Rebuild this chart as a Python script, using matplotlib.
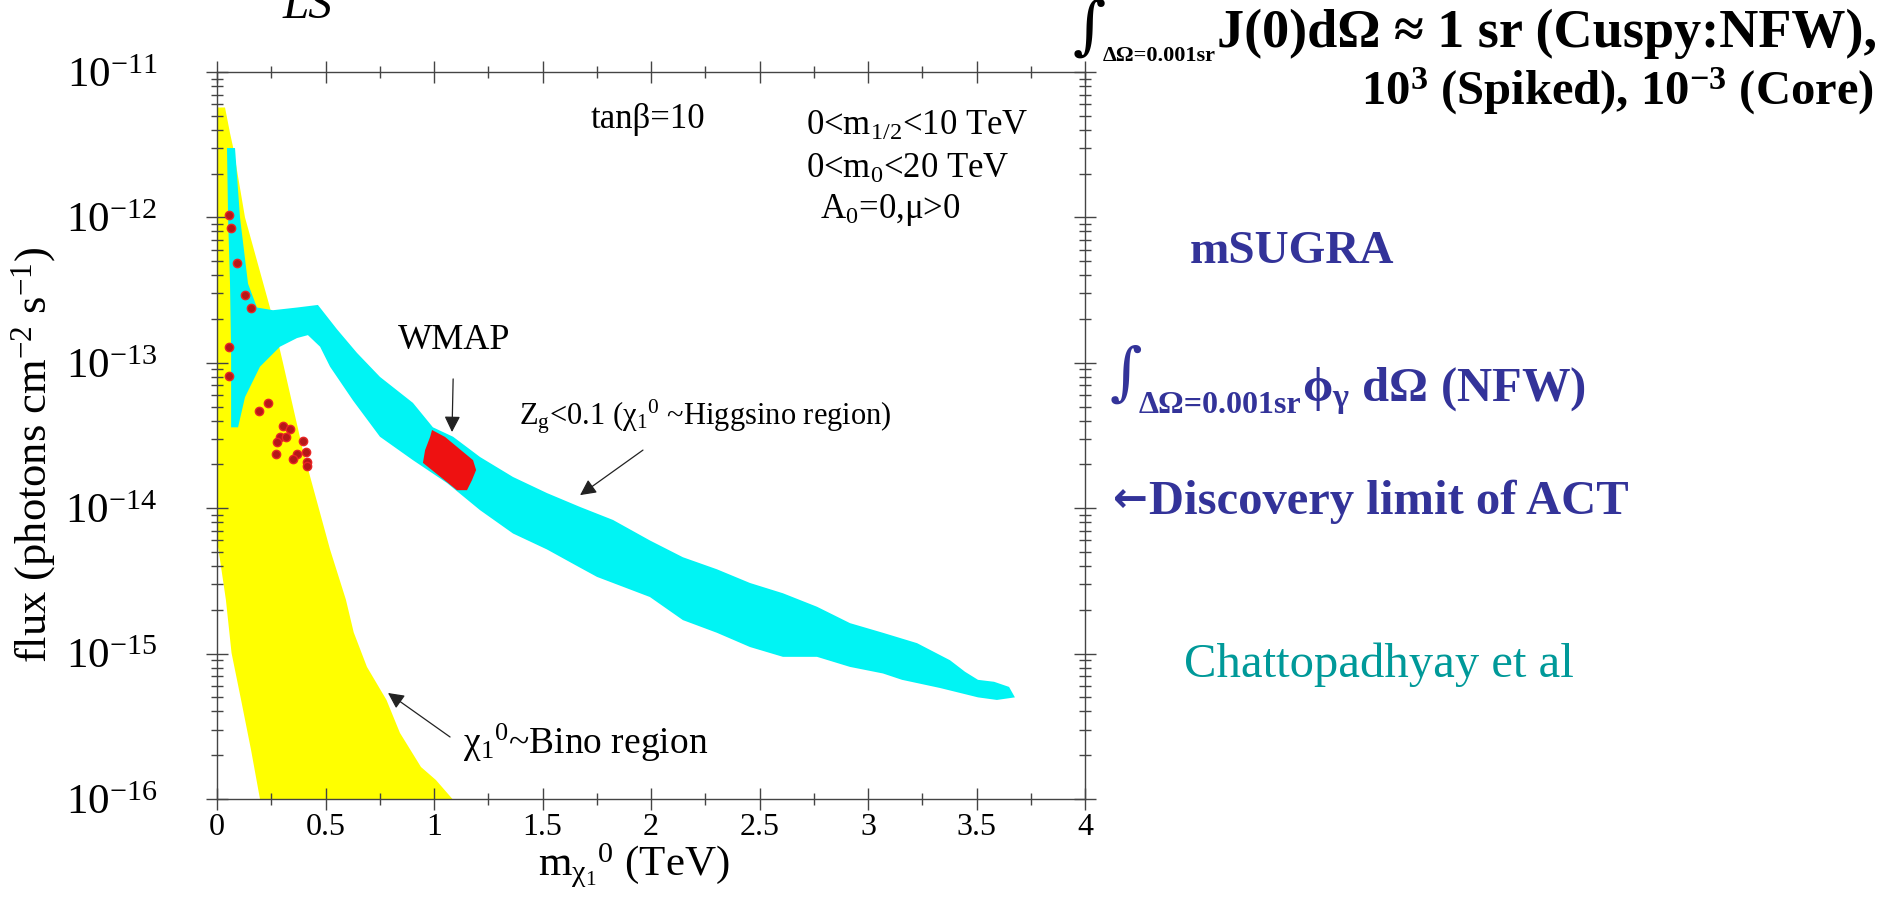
import matplotlib
matplotlib.use("Agg")
import matplotlib.pyplot as plt
from matplotlib.ticker import FixedLocator, LogLocator, NullFormatter

plt.rcParams['font.family'] = ['Liberation Serif', 'DejaVu Serif']
plt.rcParams['mathtext.fontset'] = 'custom'
plt.rcParams['mathtext.rm'] = 'Liberation Serif'
plt.rcParams['mathtext.it'] = 'Liberation Serif:italic'
plt.rcParams['mathtext.bf'] = 'Liberation Serif:bold'
plt.rcParams['mathtext.default'] = 'regular'
plt.rcParams['mathtext.fallback'] = 'stix'

# ---- data (neutralino mass in TeV, photon flux in photons cm^-2 s^-1) ----
# Bino region outline
bino_mass = [0.0, 0.037, 0.060, 0.074, 0.129, 0.244, 0.304, 0.396, 0.521,
             0.594, 0.630, 0.691, 0.781, 0.843, 0.940, 1.009, 1.085,
             0.198, 0.157, 0.111, 0.067, 0.041, 0.014, 0.0]
bino_flux = [5.7e-12, 5.7e-12, 3.8e-12, 3.05e-12, 1.0e-12, 2.4e-13, 1.0e-13,
             2.5e-14, 5.2e-15, 2.35e-15, 1.4e-15, 8.1e-16, 4.8e-16, 2.85e-16,
             1.66e-16, 1.35e-16, 1.0e-16,
             1.0e-16, 2.17e-16, 4.8e-16, 1.01e-15, 2.34e-15, 4.4e-15, 6.0e-15]

# Higgsino region (Z_g < 0.1) outline
higgsino_mass = [0.046, 0.083, 0.106, 0.143, 0.184, 0.258, 0.369, 0.465,
                 0.553, 0.645, 0.751, 0.903, 0.995, 1.088, 1.212, 1.364,
                 1.521, 1.673, 1.825, 1.995, 2.147, 2.304, 2.456, 2.608,
                 2.765, 2.917, 3.069, 3.226, 3.378, 3.447, 3.507, 3.581,
                 3.650, 3.677,
                 3.594, 3.507, 3.332, 3.157, 3.069, 2.917, 2.765, 2.608,
                 2.456, 2.304, 2.147, 1.995, 1.751, 1.673, 1.521, 1.364,
                 1.212, 1.060, 0.903, 0.751, 0.627, 0.521, 0.475, 0.419,
                 0.369, 0.290, 0.198, 0.129, 0.097, 0.065, 0.065, 0.060,
                 0.051]
higgsino_flux = [3.0e-12, 3.0e-12, 1.0e-12, 3.5e-13, 2.4e-13, 2.3e-13,
                 2.4e-13, 2.5e-13, 1.7e-13, 1.17e-13, 8.0e-14, 5.3e-14,
                 3.6e-14, 3.1e-14, 2.25e-14, 1.64e-14, 1.27e-14, 1.02e-14,
                 8.3e-15, 6.0e-15, 4.6e-15, 3.8e-15, 3.06e-15, 2.6e-15,
                 2.1e-15, 1.62e-15, 1.39e-15, 1.18e-15, 9.0e-16, 7.5e-16,
                 6.6e-16, 6.4e-16, 5.9e-16, 5.0e-16,
                 4.8e-16, 5.0e-16, 5.8e-16, 6.6e-16, 7.3e-16, 8.1e-16,
                 9.5e-16, 9.5e-16, 1.11e-15, 1.39e-15, 1.70e-15, 2.45e-15,
                 3.37e-15, 3.9e-15, 5.2e-15, 6.7e-15, 9.7e-15, 1.49e-14,
                 2.14e-14, 3.1e-14, 5.5e-14, 9.4e-14, 1.29e-13, 1.55e-13,
                 1.48e-13, 1.29e-13, 9.4e-14, 5.8e-14, 3.6e-14, 3.6e-14,
                 1.22e-13, 3.5e-13, 1.0e-12]

# WMAP-allowed patch
wmap_mass = [0.991, 1.051, 1.180, 1.194, 1.175, 1.152, 1.106, 0.949,
             0.959, 0.982]
wmap_flux = [3.45e-14, 3.09e-14, 2.14e-14, 1.83e-14, 1.56e-14, 1.33e-14,
             1.33e-14, 2.05e-14, 2.51e-14, 3.09e-14]

# individual model points
point_mass = [0.055, 0.065, 0.092, 0.129, 0.157, 0.055, 0.055, 0.194,
              0.235, 0.304, 0.336, 0.290, 0.318, 0.276, 0.396, 0.410,
              0.369, 0.350, 0.272, 0.415, 0.415]
point_flux = [1.04e-12, 8.45e-13, 4.85e-13, 2.92e-13, 2.38e-13, 1.29e-13,
              8.1e-14, 4.66e-14, 5.3e-14, 3.67e-14, 3.51e-14, 3.09e-14,
              3.09e-14, 2.85e-14, 2.90e-14, 2.44e-14, 2.36e-14, 2.18e-14,
              2.36e-14, 2.08e-14, 1.95e-14]

x_ticks = [0, 0.5, 1, 1.5, 2, 2.5, 3, 3.5, 4]
x_tick_labels = ['0', '0.5', '1', '1.5', '2', '2.5', '3', '3.5', '4']
y_ticks = [1e-16, 1e-15, 1e-14, 1e-13, 1e-12, 1e-11]
y_tick_labels = [r'$10^{-16}$', r'$10^{-15}$', r'$10^{-14}$',
                 r'$10^{-13}$', r'$10^{-12}$', r'$10^{-11}$']

W, H = 1892, 899
fig = plt.figure(figsize=(W / 100, H / 100), dpi=100)
fig.patch.set_facecolor('white')
ax = fig.add_axes([217 / W, 1 - 799 / H, (1085 - 217) / W, (799 - 72) / H])

ax.set_xlim(0, 4)
ax.set_yscale('log')
ax.set_ylim(1e-16, 1e-11)

ax.fill(bino_mass, bino_flux, color='#ffff00', lw=0, zorder=1)
ax.fill(higgsino_mass, higgsino_flux, color='#00f4f4', lw=0, zorder=2)
ax.fill(wmap_mass, wmap_flux, color='#ee1111', lw=0, zorder=3)
ax.plot(point_mass, point_flux, ls='none', marker='o', ms=6,
        mfc='#b51818', mec='#e82626', mew=1.0, zorder=4)

# axes frame and ticks
for sp in ax.spines.values():
    sp.set_color('#444444')
    sp.set_linewidth(1.0)
ax.xaxis.set_major_locator(FixedLocator(x_ticks))
ax.set_xticklabels(x_tick_labels)
ax.xaxis.set_minor_locator(FixedLocator([0.25, 0.75, 1.25, 1.75, 2.25,
                                         2.75, 3.25, 3.75]))
ax.yaxis.set_major_locator(FixedLocator(y_ticks))
ax.set_yticklabels(y_tick_labels)
ax.yaxis.set_minor_locator(LogLocator(base=10, subs=range(2, 10), numticks=20))
ax.yaxis.set_minor_formatter(NullFormatter())
ax.tick_params(which='both', direction='inout', top=True, right=True,
               color='#444444', width=1.0)
ax.tick_params(which='major', length=16)
ax.tick_params(which='minor', length=8)
ax.tick_params(axis='x', which='major', labelsize=23, pad=2)
ax.tick_params(axis='y', which='major', labelsize=31, pad=35)

fig.text(34 / W, 1 - 455 / H, r'flux (photons cm$^{-2}$ s$^{-1}$)',
         rotation=90, ha='center', va='center', fontsize=32)
fig.text(538 / W, 1 - 866 / H, r'm$_{\chi_1}$$^{0}$ (TeV)',
         ha='left', va='center', fontsize=31)
fig.text(283 / W, 1 - 18 / H, 'LS', style='italic', fontsize=34,
         ha='left', va='baseline')

# annotations inside the panel
ax.text(1.986, 4.68e-12, 'tanβ=10', ha='center', va='center', fontsize=25)
ax.text(2.714, 4.2e-12, r'0<m$_{1/2}$<10 TeV', ha='left', va='center',
        fontsize=25)
ax.text(2.714, 2.15e-12, r'0<m$_0$<20 TeV', ha='left', va='center',
        fontsize=25)
ax.text(2.779, 1.12e-12, r'A$_0$=0,μ>0', ha='left', va='center', fontsize=25)

ax.annotate('WMAP', xy=(1.083, 3.34e-14), xytext=(1.092, 1.43e-13),
            ha='center', va='center', fontsize=26,
            arrowprops=dict(arrowstyle='-|>', color='#222222', lw=0.9,
                            mutation_scale=24, shrinkA=14, shrinkB=0))
ax.text(1.392, 4.24e-14, r'Z$_g$<0.1 ($\chi_1$$^0$ ~Higgsino region)',
        ha='left', va='center', fontsize=22)
ax.annotate('', xy=(1.673, 1.23e-14), xytext=(1.963, 2.51e-14),
            arrowprops=dict(arrowstyle='-|>', color='#222222', lw=0.9,
                            mutation_scale=24, shrinkA=0, shrinkB=0))
ax.text(1.134, 2.43e-16, r'$\chi_1$$^0$~Bino region', ha='left',
        va='center', fontsize=27)
ax.annotate('', xy=(0.788, 5.36e-16), xytext=(1.074, 2.67e-16),
            arrowprops=dict(arrowstyle='-|>', color='#222222', lw=0.9,
                            mutation_scale=24, shrinkA=0, shrinkB=0))

# side notes
blue = '#333399'
renderer = fig.canvas.get_renderer()


def right_edge(t):
    return t.get_window_extent(renderer=renderer).x1


def left_edge(t):
    return t.get_window_extent(renderer=renderer).x0


# first line: integral sign, small subscript, then the statement (right aligned)
main1 = fig.text(1877 / W, 1 - 47 / H, 'J(0)dΩ ≈ 1 sr (Cuspy:NFW),',
                 ha='right', va='baseline', fontsize=39, fontweight='bold',
                 color='black')
sub1 = fig.text((left_edge(main1) - 1) / W, 1 - 61 / H, 'ΔΩ=0.001sr',
                ha='right', va='baseline', fontsize=16, fontweight='bold',
                color='black')
fig.text((left_edge(sub1) + 3) / W, 1 - 47 / H, '∫', ha='right',
         va='baseline', fontsize=46, family='DejaVu Serif', color='black')
fig.text(1874 / W, 1 - 105 / H, r'10$^3$ (Spiked), 10$^{-3}$ (Core)',
         ha='right', va='baseline', fontsize=35, fontweight='bold',
         color='black')

fig.text(1190 / W, 1 - 263 / H, 'mSUGRA', ha='left', va='baseline',
         fontsize=34, fontweight='bold', color=blue)

int2 = fig.text(1110 / W, 1 - 393 / H, '∫', ha='left', va='baseline',
                fontsize=45, family='DejaVu Serif', color=blue)
sub2 = fig.text((right_edge(int2) - 4) / W, 1 - 413 / H, 'ΔΩ=0.001sr',
                ha='left', va='baseline', fontsize=23, fontweight='bold',
                color=blue)
fig.text((right_edge(sub2) + 1) / W, 1 - 401 / H,
         r'$\phi_\gamma$ dΩ (NFW)', ha='left', va='baseline', fontsize=35,
         fontweight='bold', color=blue)

arrow = fig.text(1113 / W, 1 - 512 / H, '←', ha='left', va='baseline',
                 fontsize=30, fontweight='bold', family='DejaVu Sans',
                 color=blue)
fig.text((right_edge(arrow) + 1) / W, 1 - 514 / H, 'Discovery limit of ACT',
         ha='left', va='baseline', fontsize=35, fontweight='bold',
         color=blue)
fig.text(1184 / W, 1 - 677 / H, 'Chattopadhyay et al', ha='left',
         va='baseline', fontsize=35, color='#009999')

fig.savefig('out.png', dpi=100, facecolor='white')
